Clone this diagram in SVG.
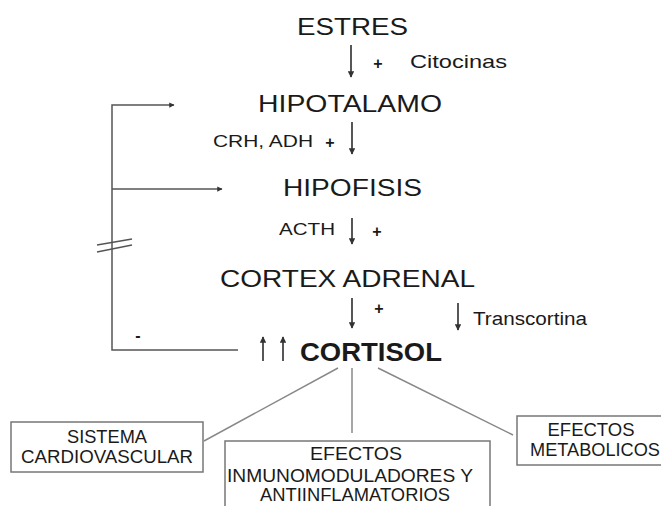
<svg xmlns="http://www.w3.org/2000/svg" width="661" height="506" viewBox="0 0 661 506">
<defs>
<marker id="ah" viewBox="0 0 10 10" refX="9" refY="5" markerWidth="3.5" markerHeight="3.5" orient="auto" markerUnits="strokeWidth">
<path d="M0,0 L10,5 L0,10 z" fill="#333"/>
</marker>
</defs>
<style>
text{font-family:"Liberation Sans",Arial,sans-serif;fill:#1a1a1a}
.big{font-size:24px}
.sm{font-size:17px}
.box text{font-size:18px;text-anchor:middle}
.box rect{fill:#fff;stroke:#777;stroke-width:1.5}
.arr{stroke:#444;stroke-width:1.8;fill:none;marker-end:url(#ah)}
.fb{stroke:#555;stroke-width:1.5;fill:none}
.con{stroke:#888;stroke-width:1.5;fill:none}
.plus{font-size:16px;font-weight:bold}
</style>
<rect width="661" height="506" fill="#fff"/>

<g id="estres"><text class="big" x="297" y="35" textLength="111" lengthAdjust="spacingAndGlyphs">ESTRES</text></g>
<g id="citocinas"><text x="410" y="68" font-size="19" textLength="97" lengthAdjust="spacingAndGlyphs">Citocinas</text></g>
<g id="hipotalamo"><text class="big" x="258" y="112" textLength="184" lengthAdjust="spacingAndGlyphs">HIPOTALAMO</text></g>
<g id="crh"><text class="sm" x="213" y="147" textLength="100" lengthAdjust="spacingAndGlyphs">CRH, ADH</text></g>
<g id="hipofisis"><text class="big" x="283" y="196" textLength="139" lengthAdjust="spacingAndGlyphs">HIPOFISIS</text></g>
<g id="acth"><text class="sm" x="279" y="235" textLength="56" lengthAdjust="spacingAndGlyphs">ACTH</text></g>
<g id="cortex"><text class="big" x="220" y="287" textLength="255" lengthAdjust="spacingAndGlyphs">CORTEX ADRENAL</text></g>
<g id="transcortina"><text x="473" y="325" font-size="18" textLength="114" lengthAdjust="spacingAndGlyphs">Transcortina</text></g>
<g id="cortisol"><text x="300" y="361" font-size="26" font-weight="bold" textLength="142" lengthAdjust="spacingAndGlyphs">CORTISOL</text></g>

<g id="signs">
<text class="plus" x="378" y="69" text-anchor="middle">+</text>
<text class="plus" x="330" y="148" text-anchor="middle">+</text>
<text class="plus" x="377" y="237" text-anchor="middle">+</text>
<text class="plus" x="379" y="314" text-anchor="middle">+</text>
<text class="plus" x="138" y="341" text-anchor="middle">-</text>
</g>

<g id="sistema" class="box">
<rect x="11" y="422" width="192" height="50"/>
<text x="107" y="443" textLength="80" lengthAdjust="spacingAndGlyphs">SISTEMA</text>
<text x="107" y="463" textLength="172" lengthAdjust="spacingAndGlyphs">CARDIOVASCULAR</text>
</g>
<g id="inmuno" class="box">
<rect x="225" y="441" width="265" height="75"/>
<text x="356" y="460" textLength="92" lengthAdjust="spacingAndGlyphs">EFECTOS</text>
<text x="350" y="482" textLength="246" lengthAdjust="spacingAndGlyphs">INMUNOMODULADORES Y</text>
<text x="355" y="501" textLength="190" lengthAdjust="spacingAndGlyphs">ANTIINFLAMATORIOS</text>
</g>
<g id="metabolicos" class="box">
<rect x="517" y="416" width="150" height="49"/>
<text x="591" y="436" font-size="17" textLength="87" lengthAdjust="spacingAndGlyphs">EFECTOS</text>
<text x="595" y="456" font-size="17" textLength="130" lengthAdjust="spacingAndGlyphs">METABOLICOS</text>
</g>

<g id="connectors">
<line class="arr" x1="351" y1="45" x2="351" y2="77"/>
<line class="arr" x1="352" y1="122" x2="352" y2="154"/>
<line class="arr" x1="352" y1="218" x2="352" y2="244"/>
<line class="arr" x1="352" y1="298" x2="352" y2="328"/>
<line class="arr" x1="458" y1="303" x2="458" y2="330"/>
<line class="arr" x1="263" y1="361" x2="263" y2="337"/>
<line class="arr" x1="283" y1="361" x2="283" y2="337"/>
<path class="fb" d="M238,350 H112 V105 H174" marker-end="url(#ah)"/>
<path class="fb" d="M112,189 H222" marker-end="url(#ah)"/>
<line class="fb" x1="97" y1="245" x2="132" y2="239"/>
<line class="fb" x1="97" y1="252" x2="132" y2="245"/>
<line class="con" x1="338" y1="368" x2="204" y2="441"/>
<line class="con" x1="352" y1="368" x2="352" y2="433"/>
<line class="con" x1="378" y1="368" x2="513" y2="435"/>
</g>
</svg>
